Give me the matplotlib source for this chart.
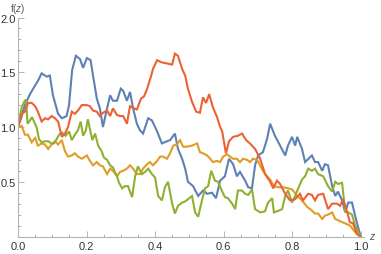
import matplotlib
matplotlib.use("Agg")
import matplotlib.pyplot as plt
from matplotlib.ticker import MultipleLocator, FixedLocator

plt.rcParams['font.family'] = ['Liberation Sans', 'DejaVu Sans']
plt.rcParams['mathtext.fontset'] = 'custom'
plt.rcParams['mathtext.it'] = 'Liberation Sans:italic'

z_blue = [0, 0.009, 0.02, 0.035, 0.05, 0.058, 0.069, 0.084, 0.093, 0.102,
          0.117, 0.128, 0.142, 0.149, 0.158, 0.169, 0.181, 0.19, 0.201, 0.212,
          0.219, 0.23, 0.239, 0.248, 0.26, 0.269, 0.277, 0.289, 0.3, 0.307,
          0.318, 0.327, 0.336, 0.347, 0.356, 0.365, 0.38, 0.391, 0.406, 0.42,
          0.435, 0.444, 0.458, 0.467, 0.479, 0.488, 0.496, 0.511, 0.526, 0.54,
          0.552, 0.566, 0.578, 0.59, 0.604, 0.616, 0.628, 0.639, 0.648, 0.663,
          0.672, 0.683, 0.692, 0.701, 0.715, 0.727, 0.736, 0.75, 0.765, 0.78,
          0.788, 0.8, 0.809, 0.815, 0.829, 0.838, 0.858, 0.867, 0.876, 0.888,
          0.896, 0.905, 0.917, 0.926, 0.934, 0.946, 0.955, 0.964, 0.975, 0.984,
          1.0]
f_blue = [1.0, 1.08, 1.2, 1.3, 1.38, 1.42, 1.49, 1.46, 1.47, 1.29,
          1.12, 1.08, 1.10, 1.2, 1.52, 1.65, 1.62, 1.54, 1.63, 1.61,
          1.47, 1.26, 1.17, 1.0, 1.17, 1.29, 1.24, 1.24, 1.35, 1.33,
          1.24, 1.32, 1.17, 1.03, 0.97, 0.94, 1.08, 1.06, 0.96, 0.85,
          0.87, 0.88, 0.94, 0.80, 0.71, 0.62, 0.50, 0.46, 0.37, 0.42,
          0.39, 0.40, 0.35, 0.51, 0.55, 0.71, 0.66, 0.55, 0.59, 0.51,
          0.45, 0.44, 0.65, 0.74, 0.77, 0.89, 1.03, 0.92, 0.83, 0.74,
          0.83, 0.91, 0.83, 0.91, 0.80, 0.68, 0.74, 0.68, 0.68, 0.60,
          0.66, 0.65, 0.46, 0.37, 0.41, 0.33, 0.22, 0.31, 0.31, 0.19,
          0.0]

z_orange = [0, 0.011, 0.02, 0.029, 0.04, 0.05, 0.058, 0.069, 0.079, 0.088,
            0.098, 0.108, 0.117, 0.128, 0.137, 0.146, 0.157, 0.166, 0.175, 0.186,
            0.201, 0.21, 0.219, 0.23, 0.239, 0.248, 0.26, 0.269, 0.277, 0.289,
            0.298, 0.307, 0.318, 0.327, 0.336, 0.347, 0.356, 0.365, 0.377, 0.385,
            0.394, 0.406, 0.415, 0.423, 0.435, 0.444, 0.453, 0.464, 0.473, 0.482,
            0.493, 0.508, 0.523, 0.531, 0.54, 0.552, 0.561, 0.569, 0.581, 0.59,
            0.599, 0.61, 0.619, 0.628, 0.639, 0.648, 0.657, 0.669, 0.677, 0.686,
            0.698, 0.715, 0.727, 0.736, 0.747, 0.759, 0.774, 0.788, 0.8, 0.815,
            0.829, 0.844, 0.853, 0.867, 0.876, 0.888, 0.896, 0.905, 0.917, 0.926,
            0.94, 0.955, 0.969, 0.984, 1.0]
f_orange = [1.0, 1.01, 0.93, 0.93, 0.86, 0.90, 0.83, 0.85, 0.84, 0.80,
            0.84, 0.87, 0.84, 0.88, 0.78, 0.73, 0.74, 0.76, 0.73, 0.71,
            0.74, 0.69, 0.65, 0.68, 0.65, 0.64, 0.57, 0.62, 0.60, 0.55,
            0.59, 0.60, 0.62, 0.65, 0.62, 0.57, 0.57, 0.62, 0.66, 0.68,
            0.65, 0.69, 0.73, 0.73, 0.71, 0.76, 0.83, 0.84, 0.88, 0.82,
            0.82, 0.83, 0.85, 0.77, 0.76, 0.74, 0.71, 0.68, 0.69, 0.68,
            0.73, 0.75, 0.73, 0.71, 0.71, 0.68, 0.71, 0.70, 0.68, 0.71,
            0.70, 0.60, 0.55, 0.52, 0.46, 0.45, 0.45, 0.44, 0.43, 0.37,
            0.33, 0.27, 0.25, 0.21, 0.21, 0.16, 0.19, 0.20, 0.22, 0.16,
            0.14, 0.12, 0.10, 0.04, 0.0]

z_green = [0, 0.006, 0.011, 0.018, 0.023, 0.028, 0.035, 0.041, 0.047, 0.055,
           0.061, 0.069, 0.079, 0.088, 0.098, 0.105, 0.113, 0.12, 0.128, 0.139,
           0.149, 0.157, 0.166, 0.175, 0.183, 0.19, 0.198, 0.204, 0.21, 0.217,
           0.225, 0.234, 0.244, 0.251, 0.26, 0.269, 0.277, 0.289, 0.295, 0.304,
           0.312, 0.321, 0.333, 0.342, 0.35, 0.362, 0.371, 0.38, 0.391, 0.4,
           0.409, 0.42, 0.429, 0.438, 0.45, 0.458, 0.467, 0.479, 0.488, 0.496,
           0.508, 0.517, 0.526, 0.537, 0.546, 0.555, 0.564, 0.575, 0.584, 0.596,
           0.604, 0.613, 0.625, 0.634, 0.642, 0.654, 0.663, 0.672, 0.683, 0.692,
           0.707, 0.721, 0.73, 0.742, 0.747, 0.756, 0.771, 0.78, 0.788, 0.8,
           0.809, 0.818, 0.829, 0.838, 0.847, 0.858, 0.867, 0.876, 0.891, 0.905,
           0.917, 0.926, 0.934, 0.946, 0.955, 0.964, 0.975, 0.984, 1.0]
f_green = [1.0, 1.11, 1.18, 1.23, 1.25, 1.03, 1.06, 1.09, 1.05, 0.99,
           0.89, 0.86, 0.87, 0.87, 0.85, 0.85, 0.89, 0.93, 0.95, 0.92,
           0.96, 0.88, 0.93, 0.97, 1.05, 0.92, 0.97, 1.07, 0.98, 0.88,
           0.94, 0.83, 0.78, 0.72, 0.70, 0.65, 0.63, 0.55, 0.49, 0.44,
           0.46, 0.46, 0.36, 0.55, 0.64, 0.57, 0.59, 0.62, 0.57, 0.54,
           0.37, 0.33, 0.45, 0.50, 0.30, 0.21, 0.28, 0.31, 0.32, 0.34,
           0.37, 0.22, 0.18, 0.33, 0.44, 0.46, 0.60, 0.51, 0.50, 0.41,
           0.36, 0.35, 0.30, 0.25, 0.42, 0.42, 0.39, 0.38, 0.43, 0.25,
           0.22, 0.23, 0.31, 0.35, 0.22, 0.23, 0.25, 0.37, 0.42, 0.31,
           0.37, 0.44, 0.52, 0.55, 0.62, 0.60, 0.62, 0.57, 0.55, 0.46,
           0.41, 0.50, 0.48, 0.49, 0.23, 0.22, 0.20, 0.10, 0.0]

z_red = [0, 0.011, 0.02, 0.029, 0.04, 0.05, 0.058, 0.069, 0.079, 0.088,
         0.098, 0.108, 0.117, 0.128, 0.137, 0.146, 0.157, 0.166, 0.175, 0.186,
         0.201, 0.21, 0.219, 0.23, 0.239, 0.248, 0.26, 0.269, 0.277, 0.289,
         0.298, 0.307, 0.318, 0.327, 0.339, 0.347, 0.359, 0.368, 0.377, 0.388,
         0.394, 0.406, 0.42, 0.435, 0.45, 0.458, 0.467, 0.479, 0.488, 0.496,
         0.508, 0.52, 0.531, 0.54, 0.549, 0.558, 0.569, 0.581, 0.59, 0.596,
         0.607, 0.616, 0.628, 0.642, 0.654, 0.666, 0.677, 0.692, 0.707, 0.721,
         0.736, 0.745, 0.756, 0.765, 0.78, 0.794, 0.809, 0.823, 0.832, 0.847,
         0.858, 0.867, 0.876, 0.891, 0.905, 0.917, 0.931, 0.94, 0.949, 0.961,
         0.969, 0.978, 0.99, 1.0]
f_red = [1.0, 1.12, 1.14, 1.22, 1.22, 1.19, 1.14, 1.05, 1.08, 1.07,
         1.10, 1.08, 1.05, 0.91, 0.94, 1.0, 1.14, 1.12, 1.15, 1.2,
         1.2, 1.19, 1.15, 1.14, 1.10, 1.13, 1.15, 1.10, 1.17, 1.11,
         1.10, 1.10, 1.03, 1.19, 1.17, 1.16, 1.26, 1.28, 1.35, 1.46,
         1.53, 1.61, 1.59, 1.58, 1.57, 1.67, 1.65, 1.53, 1.47, 1.35,
         1.23, 1.14, 1.13, 1.27, 1.22, 1.30, 1.18, 1.09, 1.0, 0.96,
         0.76, 0.87, 0.91, 0.92, 0.94, 0.88, 0.85, 0.80, 0.71, 0.57,
         0.50, 0.44, 0.51, 0.48, 0.39, 0.33, 0.34, 0.39, 0.33, 0.39,
         0.38, 0.33, 0.38, 0.39, 0.25, 0.30, 0.30, 0.28, 0.34, 0.22,
         0.13, 0.12, 0.02, 0.0]

series = [(z_blue, f_blue, '#5E81B5'),
          (z_orange, f_orange, '#E19C24'),
          (z_green, f_green, '#8FB032'),
          (z_red, f_red, '#EB6235')]

axis_col = '#b3b3b3'
text_col = '#555555'

fig = plt.figure(figsize=(3.81, 2.55), dpi=100)
ax = fig.add_axes([18 / 381, 17.5 / 255, 346 / 381, 219 / 255])

for zs, fs, col in series:
    ax.plot(zs, fs, color=col, lw=1.5, solid_joinstyle='miter')

ax.set_xlim(0, 1.01)
ax.set_ylim(0, 2.0)
ax.set_facecolor('none')
for s in ('top', 'right'):
    ax.spines[s].set_visible(False)
for s in ('left', 'bottom'):
    ax.spines[s].set_color(axis_col)
    ax.spines[s].set_linewidth(0.8)

ax.xaxis.set_major_locator(FixedLocator([0, 0.2, 0.4, 0.6, 0.8, 1.0]))
ax.xaxis.set_minor_locator(MultipleLocator(0.05))
ax.yaxis.set_major_locator(FixedLocator([0.5, 1.0, 1.5, 2.0]))
ax.yaxis.set_minor_locator(MultipleLocator(0.1))
ax.xaxis.set_major_formatter(plt.FuncFormatter(lambda v, p: f'{v:.1f}'))
ax.yaxis.set_major_formatter(plt.FuncFormatter(lambda v, p: f'{v:.1f}'))
ax.tick_params(which='both', direction='in', color=axis_col, width=0.7,
               labelcolor='#333333', labelsize=8)
ax.tick_params(which='major', length=4, pad=3)
ax.tick_params(which='minor', length=2)
ax.tick_params(axis='y', pad=1.5)

ax.text(0, 2.025, 'f($z$)', transform=ax.transData, ha='center', va='bottom',
        fontsize=7, color=text_col, clip_on=False)
ax.text(1.025, 0, '$z$', transform=ax.transData, ha='left', va='center',
        fontsize=7.5, color=text_col, clip_on=False)

plt.savefig('out.png', dpi=100)
